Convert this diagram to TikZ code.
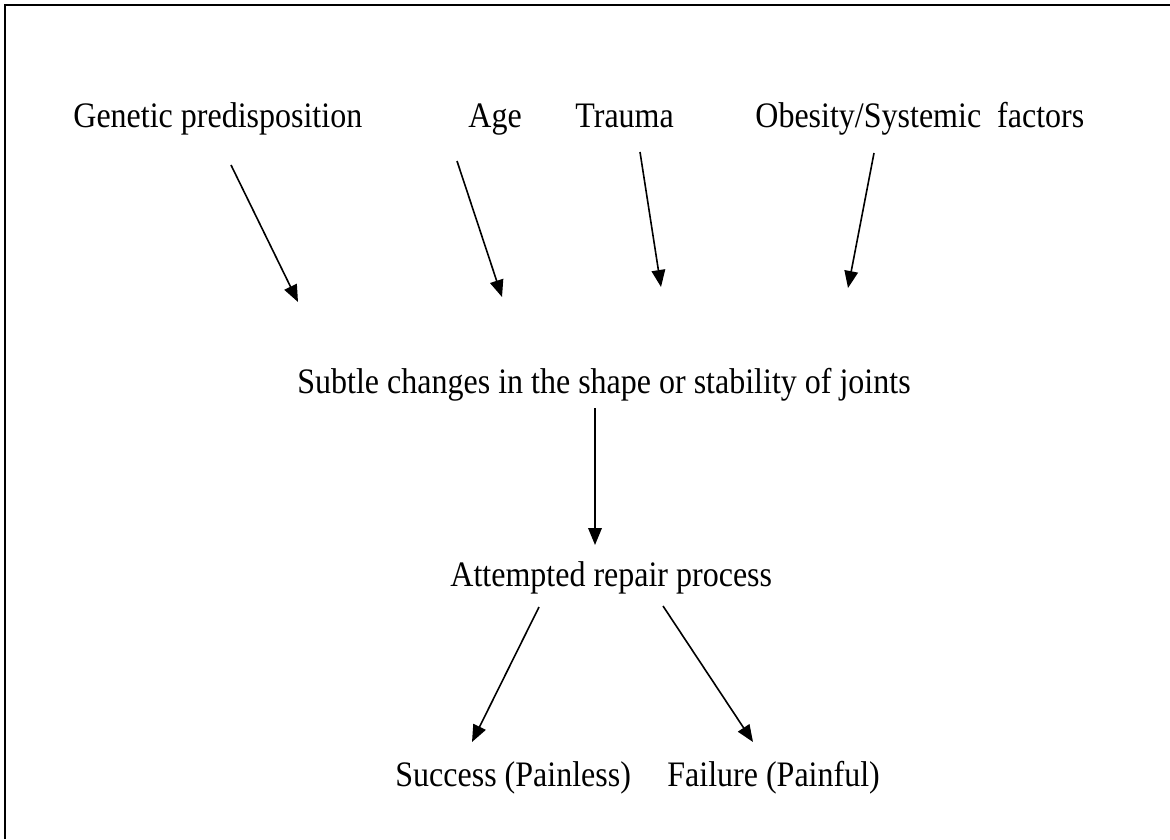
\documentclass[tikz,border=0pt]{standalone}
\usepackage{graphicx}
\usepackage{fontspec}
\setmainfont{Liberation Serif}
\usetikzlibrary{arrows.meta}
% labels are set slightly taller than wide
\newcommand{\tallText}[1]{\scalebox{1}[1.12]{#1}}
\tikzset{
  lbl/.style={anchor=base west, inner sep=0pt, font=\fontsize{16pt}{19pt}\selectfont},
  link/.style={line width=0.8pt, -{Triangle[length=8.5pt,width=6.8pt]}},
  frame/.style={line width=1pt}
}
\begin{document}
\begin{tikzpicture}[x=0.5pt,y=-0.5pt]
\useasboundingbox (0,0) rectangle (1170,839);
% outer frame (top and left edges)
\draw[frame] (4.5,839) -- (4.5,5.5) -- (1170,5.5);

% causes
\node[lbl] (gen) at (73,128) {\tallText{Genetic predisposition}};
\node[lbl] (age) at (468,128) {\tallText{Age}};
\node[lbl] (tra) at (575,128) {\tallText{Trauma}};
\node[lbl] (obe) at (755,128) {\tallText{Obesity/Systemic\ \ factors}};

% middle stages
\node[lbl] (sub) at (297,393) {\tallText{Subtle changes in the shape or stability of joints}};
\node[lbl] (rep) at (450,586) {\tallText{Attempted repair process}};

% outcomes
\node[lbl] (suc) at (395,786) {\tallText{Success (Painless)}};
\node[lbl] (fai) at (667,786) {\tallText{Failure (Painful)}};

% arrow ends
\coordinate (g1) at (231,165); \coordinate (g2) at (298,302);
\coordinate (a1) at (457,161); \coordinate (a2) at (502,297);
\coordinate (t1) at (640,152); \coordinate (t2) at (661,287);
\coordinate (o1) at (874,153); \coordinate (o2) at (848,288);
\coordinate (s1) at (595,408); \coordinate (s2) at (595,545);
\coordinate (r1) at (539,607); \coordinate (r2) at (472,742);
\coordinate (f1) at (663,606); \coordinate (f2) at (753,742);

\draw[link] (g1) -- (g2);
\draw[link] (a1) -- (a2);
\draw[link] (t1) -- (t2);
\draw[link] (o1) -- (o2);
\draw[link] (s1) -- (s2);
\draw[link] (r1) -- (r2);
\draw[link] (f1) -- (f2);
\end{tikzpicture}
\end{document}
